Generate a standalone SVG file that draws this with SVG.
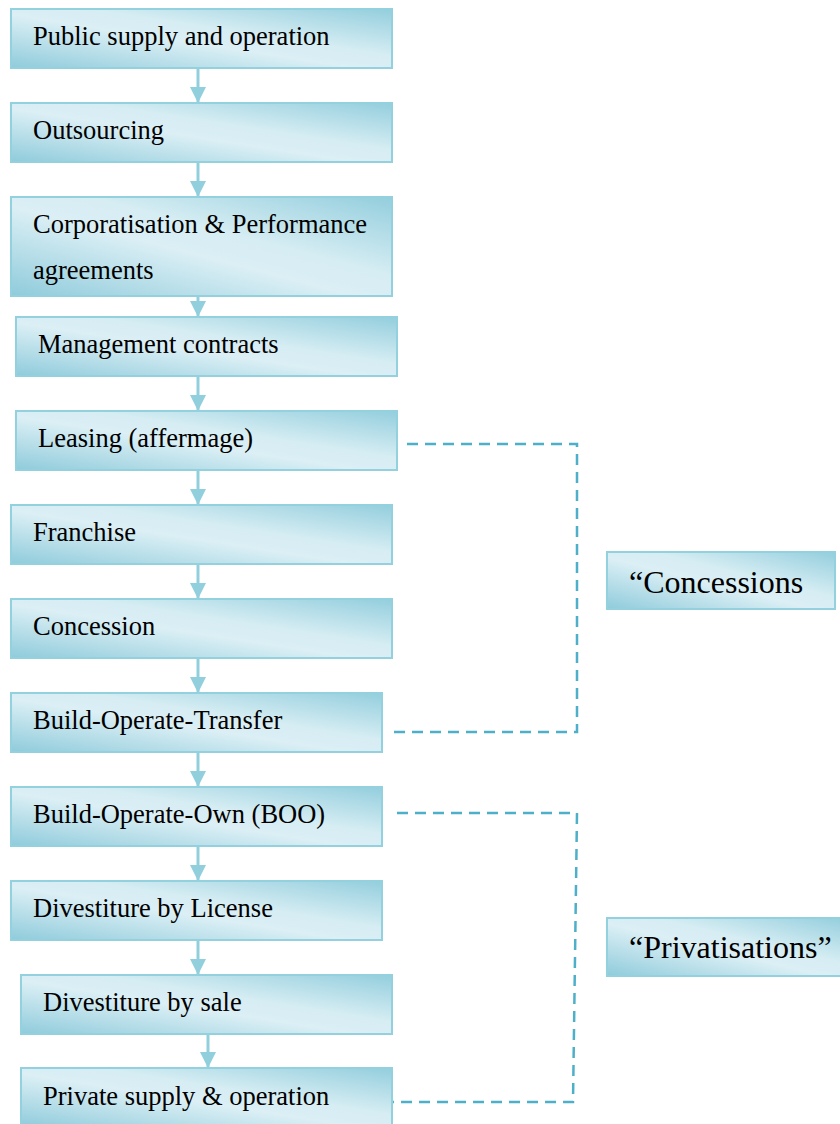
<svg xmlns="http://www.w3.org/2000/svg" width="840" height="1124" viewBox="0 0 840 1124">
<defs>
<linearGradient id="g" x1="0" y1="1" x2="1" y2="0">
<stop offset="0" stop-color="#8fcbdb"/>
<stop offset="0.45" stop-color="#dbeff5"/>
<stop offset="0.6" stop-color="#d6edf3"/>
<stop offset="1" stop-color="#93cedd"/>
</linearGradient>
<marker id="ah" markerUnits="userSpaceOnUse" markerWidth="16" markerHeight="16" viewBox="0 0 16 16" refX="16" refY="8" orient="auto">
<path d="M0,0 L16,8 L0,16 Z" fill="#92cfdd"/>
</marker>
</defs>
<style>
.box{fill:url(#g);stroke:#94d1df;stroke-width:2}
.t{font-family:"Liberation Serif","Times New Roman",serif;font-size:26.5px;fill:#000}
.tl{font-family:"Liberation Serif","Times New Roman",serif;font-size:32px;fill:#000}
.arr{stroke:#92cfdd;stroke-width:3;fill:none;marker-end:url(#ah)}
.dash{stroke:#4eafc8;stroke-width:2.5;fill:none;stroke-dasharray:11 7}
</style>
<rect width="840" height="1124" fill="#fff"/>
<g id="connectors">
<line class="arr" x1="198" y1="69" x2="198" y2="103"/>
<line class="arr" x1="198" y1="163" x2="198" y2="197"/>
<line class="arr" x1="198" y1="297" x2="198" y2="317"/>
<line class="arr" x1="198" y1="377" x2="198" y2="411"/>
<line class="arr" x1="198" y1="471" x2="198" y2="505"/>
<line class="arr" x1="198" y1="565" x2="198" y2="599"/>
<line class="arr" x1="198" y1="659" x2="198" y2="693"/>
<line class="arr" x1="198" y1="753" x2="198" y2="787"/>
<line class="arr" x1="198" y1="847" x2="198" y2="881"/>
<line class="arr" x1="198" y1="941" x2="198" y2="975"/>
<line class="arr" x1="208" y1="1035" x2="208" y2="1068"/>
<path class="dash" d="M407,444 L577,444 L577,732 L392,732"/>
<path class="dash" d="M397,813 L577,813 L573,1102 L392,1102"/>
</g>
<g id="n1"><rect class="box" x="11" y="9" width="381" height="59"/><text class="t" x="33" y="45">Public supply and operation</text></g>
<g id="n2"><rect class="box" x="11" y="103" width="381" height="59"/><text class="t" x="33" y="139">Outsourcing</text></g>
<g id="n3"><rect class="box" x="11" y="197" width="381" height="99"/><text class="t" x="33" y="233">Corporatisation &amp; Performance</text><text class="t" x="33" y="279">agreements</text></g>
<g id="n4"><rect class="box" x="16" y="317" width="381" height="59"/><text class="t" x="38" y="353">Management contracts</text></g>
<g id="n5"><rect class="box" x="16" y="411" width="381" height="59"/><text class="t" x="38" y="447">Leasing (affermage)</text></g>
<g id="n6"><rect class="box" x="11" y="505" width="381" height="59"/><text class="t" x="33" y="541">Franchise</text></g>
<g id="n7"><rect class="box" x="11" y="599" width="381" height="59"/><text class="t" x="33" y="635">Concession</text></g>
<g id="n8"><rect class="box" x="11" y="693" width="371" height="59"/><text class="t" x="33" y="729">Build-Operate-Transfer</text></g>
<g id="n9"><rect class="box" x="11" y="787" width="371" height="59"/><text class="t" x="33" y="823">Build-Operate-Own (BOO)</text></g>
<g id="n10"><rect class="box" x="11" y="881" width="371" height="59"/><text class="t" x="33" y="917">Divestiture by License</text></g>
<g id="n11"><rect class="box" x="21" y="975" width="371" height="59"/><text class="t" x="43" y="1011">Divestiture by sale</text></g>
<g id="n12"><rect class="box" x="21" y="1068" width="371" height="59"/><text class="t" x="43" y="1105">Private supply &amp; operation</text></g>
<g id="concessions"><rect class="box" x="607" y="552" width="228" height="57"/><text class="tl" x="629" y="593">“Concessions</text></g>
<g id="privatisations"><rect class="box" x="607" y="918" width="240" height="58"/><text class="tl" x="629" y="958">“Privatisations”</text></g>
</svg>
